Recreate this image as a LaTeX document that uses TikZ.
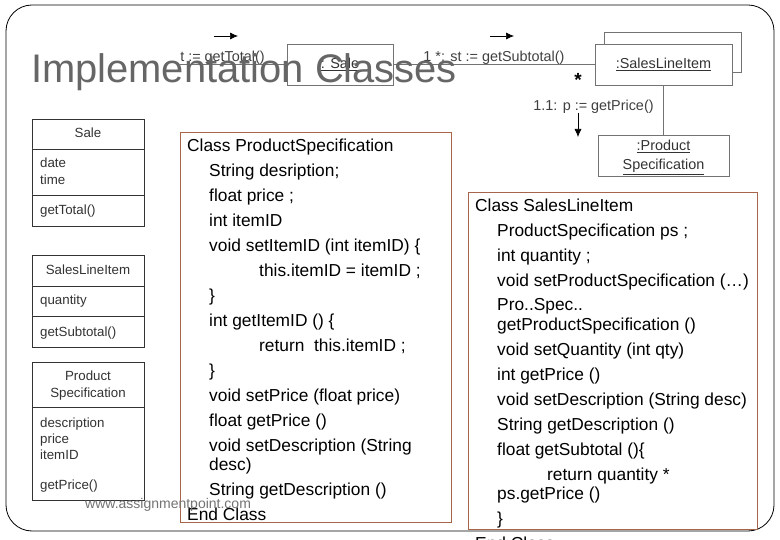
\documentclass[tikz,border=0pt]{standalone}
\usepackage{fontspec}
\setmainfont{Liberation Sans}
\usetikzlibrary{arrows.meta}
\definecolor{boxbrown}{HTML}{A5664C}
\definecolor{titlegray}{HTML}{666666}
\tikzset{
  x=1pt,y=-1pt,
  code/.style={anchor=base west,inner sep=0pt,yshift=-0.7pt,font=\fontsize{17.35}{17.35}\selectfont,text=black},
  uml/.style={anchor=base west,inner sep=0pt,font=\fontsize{13.3}{13.3}\selectfont,text=black!80},
  umlc/.style={anchor=base,inner sep=0pt,font=\fontsize{13.3}{13.3}\selectfont,text=black!80},
  msg/.style={anchor=base,inner sep=0pt,font=\fontsize{14.4}{14.4}\selectfont,text=black!75},
  classbox/.style={draw=black!80,line width=0.8pt,fill=white},
  objbox/.style={draw=black!55,line width=0.9pt,fill=white,inner sep=0pt,font=\fontsize{14.4}{14.4}\selectfont,text=black!80,align=center},
  objtext/.style={inner sep=0pt,font=\fontsize{14.4}{14.4}\selectfont,text=black!80,align=center},
  wire/.style={draw=black!55,line width=0.8pt},
  flow/.style={draw=black,line width=0.7pt,-{Latex[length=8pt,width=7pt]}},
  listbox/.style={draw=boxbrown,line width=0.9pt,fill=white,inner sep=0pt},
}
\begin{document}
\begin{tikzpicture}
\useasboundingbox (0,0) rectangle (780,540);
\clip (0,0) rectangle (780,540);
\fill[white] (0,0) rectangle (780,540);
\draw[black,line width=0.8pt,rounded corners=26pt] (6,5) rectangle (774,531);
% collaboration diagram
\node[objbox,minimum width=106pt,minimum height=41pt] (sale) at (340,64.5) {};
\node[objtext] (saletxt) at (340,64.5) {\underline{: Sale}};
\node[objbox,minimum width=137pt,minimum height=40pt] (back) at (672.5,52) {};
\node[objbox,minimum width=137pt,minimum height=41pt] (sli) at (663.5,64.5) {\underline{:SalesLineItem}};
\node[objbox,minimum width=131pt,minimum height=41pt] (ps) at (663.5,155.5) {};
\node[objtext] (pstxt) at (663.5,157.5) {\underline{:Product}\\[5pt]\underline{Specification}};
\coordinate (inL) at (180,64);
\draw[wire] (inL) -- (sale.west |- inL);
\draw[wire] (sale.east |- inL) -- (sli.west |- inL);
\draw[wire] (sli.south) -- (ps.north);
\coordinate (a1s) at (214,36); \coordinate (a1e) at (238,36);
\coordinate (a2s) at (490,36); \coordinate (a2e) at (514,36);
\coordinate (a3s) at (578,113); \coordinate (a3e) at (578,137);
\draw[flow] (a1s) -- (a1e);
\draw[flow] (a2s) -- (a2e);
\draw[flow] (a3s) -- (a3e);
\node[msg] (m1) at (222.5,62) {t := getTotal()};
\node[msg] (m2) at (494,62) {1 *: st := getSubtotal()};
\node[anchor=base,inner sep=0pt,font=\fontsize{19}{19}\selectfont\bfseries] (star) at (578,87) {*};
\node[msg] (m3) at (593.5,111) {1.1: p := getPrice()};
% title
\node[anchor=base west,inner sep=0pt,text=titlegray,font=\fontsize{39.9}{39.9}\selectfont] (title) at (31,83) {Implementation Classes};
% class boxes
\draw[classbox] (32,119) rectangle (144,226);
\draw[classbox] (32,149) -- (144,149) (32,195) -- (144,195);
\node[umlc] (c1) at (88,138) {Sale};
\node[uml] (c1a) at (40,168) {date};
\node[uml] (c1b) at (40,185) {time};
\node[uml] (c1c) at (40,215) {getTotal()};
\draw[classbox] (32,255) rectangle (144,347);
\draw[classbox] (32,286) -- (144,286) (32,316) -- (144,316);
\node[umlc] (c2) at (88,275) {SalesLineItem};
\node[uml] (c2a) at (40,305) {quantity};
\node[uml] (c2b) at (40,337) {getSubtotal()};
\draw[classbox] (32,362) rectangle (144,500);
\draw[classbox] (32,407) -- (144,407);
\node[umlc] (c3) at (88,381) {Product};
\node[umlc] (c3b) at (88,397) {Specification};
\node[uml] (c3c) at (40,427) {description};
\node[uml] (c3d) at (40,443) {price};
\node[uml] (c3e) at (40,459) {itemID};
\node[uml] (c3f) at (40,489) {getPrice()};
% product specification listing
\node[listbox,minimum width=270.5pt,minimum height=390pt,anchor=north west] (lb1) at (180,132) {};
\node[code] (p1) at (187,150.5) {Class ProductSpecification};
\node[code] (p2) at (209,175.5) {String desription;};
\node[code] (p3) at (209,200.5) {float price ;};
\node[code] (p4) at (209,225.5) {int itemID};
\node[code] (p5) at (209,250.5) {void setItemID (int itemID) \{};
\node[code] (p6) at (259,275.5) {this.itemID = itemID ;};
\node[code] (p7) at (209,300.5) {\}};
\node[code] (p8) at (209,325.5) {int getItemID () \{};
\node[code] (p9) at (259,350.5) {return~ this.itemID ;};
\node[code] (p10) at (209,375.5) {\}};
\node[code] (p11) at (209,400.5) {void setPrice (float price)};
\node[code] (p12) at (209,425.5) {float getPrice ()};
\node[code] (p13) at (209,450.5) {void setDescription (String};
\node[code] (p14) at (209,470) {desc)};
\node[code] (p15) at (209,494.5) {String getDescription ()};
\node[code] (p16) at (187,519.5) {End Class};
% watermark
\node[anchor=base west,inner sep=0pt,text=black!55,font=\fontsize{14}{14}\selectfont] (wm) at (85,508.5) {www.assignmentpoint.com};
% sales line item listing
\node[listbox,minimum width=289pt,minimum height=337pt,anchor=north west] (lb2) at (468,192) {};
\node[code] (s1) at (475,210.5) {Class SalesLineItem};
\node[code] (s2) at (497,235.5) {ProductSpecification ps ;};
\node[code] (s3) at (497,260.5) {int quantity ;};
\node[code] (s4) at (497,285.5) {void setProductSpecification (…)};
\node[code] (s5) at (497,310) {Pro..Spec..};
\node[code] (s6) at (497,329.5) {getProductSpecification ()};
\node[code] (s7) at (497,354.5) {void setQuantity (int qty)};
\node[code] (s8) at (497,379.5) {int getPrice ()};
\node[code] (s9) at (497,404.5) {void setDescription (String desc)};
\node[code] (s10) at (497,429.5) {String getDescription ()};
\node[code] (s11) at (497,454.5) {float getSubtotal ()\{};
\node[code] (s12) at (547,479.5) {return quantity *};
\node[code] (s13) at (497,499) {ps.getPrice ()};
\node[code] (s14) at (497,524) {\}};
\node[code] (s15) at (475,549) {End Class};
\end{tikzpicture}
\end{document}
